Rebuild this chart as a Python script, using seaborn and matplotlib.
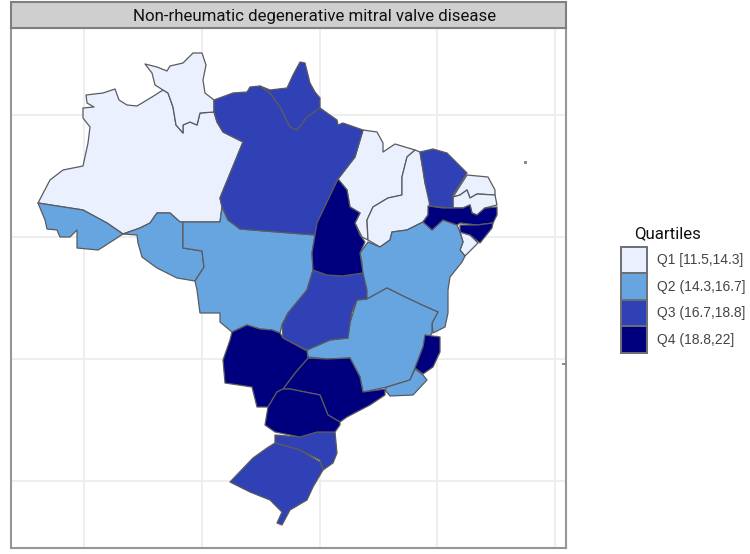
import matplotlib
matplotlib.use("Agg")

import matplotlib.pyplot as plt
import seaborn as sns
from matplotlib.patches import Patch, Rectangle


# ==========================================
# DATA (outlines)
# ==========================================

quartile_labels = [
    "Q1 [11.5,14.3]",
    "Q2 (14.3,16.7]",
    "Q3 (16.7,18.8]",
    "Q4 (18.8,22]"
]

quartile_colors = ["#EAF0FD", "#66A5E0", "#3041B5", "#00007F"]

lon_grid = [-70, -60, -50, -40, -30]
lat_grid = [0, -10, -20, -30]

amazonas = [(86,95),(103,93),(115,89),(119,100),(127,105),(137,106),(152,97),(163,90),(168,93),(173,107),(176,125),(183,133),(183,125),(190,122),(197,125),(200,113),(214,112),(217,122),(223,132),(243,142),(220,198),(222,207),(220,222),(180,222),(170,213),(157,213),(150,223),(140,228),(123,234),(107,223),(83,210),(38,203),(50,180),(63,170),(83,166),(88,143),(90,127),(83,118),(83,108),(94,107),(87,103)]
roraima = [(145,64),(157,67),(167,71),(170,66),(183,63),(193,53),(202,53),(206,65),(203,80),(205,93),(214,100),(214,112),(200,113),(197,125),(190,122),(183,125),(183,133),(176,125),(173,107),(168,93),(163,90),(155,85),(152,73)]
acre = [(38,203),(83,210),(107,223),(123,234),(103,247),(98,250),(77,248),(77,230),(70,237),(60,237),(57,230),(47,229),(45,220)]
rondonia = [(123,234),(140,228),(150,223),(157,213),(170,213),(180,222),(183,222),(183,248),(202,251),(204,267),(195,281),(177,278),(157,268),(142,257),(138,243),(137,235)]
mato_grosso = [(183,222),(220,222),(222,207),(228,220),(240,229),(315,235),(312,253),(313,270),(310,280),(307,290),(288,313),(282,325),(280,333),(272,330),(260,329),(247,325),(232,332),(220,322),(220,313),(200,313),(197,290),(195,281),(204,267),(202,251),(183,248)]
para = [(214,100),(233,93),(247,92),(250,87),(260,86),(270,93),(280,107),(290,127),(297,130),(307,117),(320,108),(337,120),(338,125),(343,123),(363,130),(355,157),(338,179),(317,223),(315,235),(240,229),(228,220),(222,207),(220,198),(243,142),(223,132),(217,122),(214,112)]
amapa = [(260,86),(270,90),(287,88),(293,75),(300,62),(305,63),(310,83),(315,92),(320,98),(320,108),(307,117),(297,130),(290,127),(280,107),(270,93)]
maranhao = [(363,130),(377,132),(383,143),(383,152),(395,144),(415,150),(407,157),(402,177),(402,195),(388,198),(373,207),(367,220),(368,240),(362,237),(355,223),(360,213),(350,207),(347,190),(338,179),(355,157)]
piaui = [(415,150),(420,152),(423,170),(425,183),(430,200),(428,215),(423,222),(407,230),(392,232),(390,240),(380,247),(368,240),(367,220),(373,207),(388,198),(402,195),(402,177),(407,157)]
ceara = [(420,152),(433,149),(447,153),(467,173),(453,195),(453,208),(440,207),(430,206),(425,183),(423,170)]
rio_grande_norte = [(467,175),(488,177),(495,190),(495,195),(477,194),(470,198),(467,190),(460,195),(453,197)]
paraiba = [(453,197),(460,195),(467,190),(470,198),(477,194),(495,195),(497,205),(485,208),(477,215),(472,213),(470,205),(463,208),(453,208)]
pernambuco = [(428,206),(443,208),(453,208),(463,208),(470,205),(472,213),(477,215),(485,208),(497,207),(497,215),(493,223),(477,225),(460,223),(457,225),(443,220),(432,230),(423,222),(428,215)]
alagoas = [(460,225),(477,225),(493,223),(492,228),(480,243),(470,235),(460,232)]
sergipe = [(460,232),(470,235),(478,243),(465,256),(460,250),(463,242)]
bahia = [(423,222),(432,230),(443,220),(457,225),(460,232),(463,242),(460,250),(465,256),(462,262),(450,277),(448,290),(448,313),(445,327),(433,333),(432,323),(438,312),(422,305),(403,296),(387,288),(367,299),(363,283),(362,263),(360,253),(368,242),(380,247),(390,240),(392,232),(407,230)]
tocantins = [(338,179),(347,190),(350,207),(360,213),(355,223),(360,235),(365,242),(360,253),(363,273),(342,276),(327,275),(313,270),(312,253),(317,223)]
goias = [(313,270),(327,275),(342,276),(363,273),(367,290),(367,299),(357,300),(352,312),(350,323),(348,338),(330,340),(307,350),(283,338),(282,325),(288,313),(307,290),(310,280)]
distrito_federal = [(340,304),(350,304),(350,311),(340,311)]
minas_gerais = [(367,299),(387,288),(403,296),(422,305),(438,312),(432,323),(432,333),(423,347),(415,368),(410,380),(387,387),(363,392),(360,377),(350,358),(327,359),(308,357),(307,350),(330,340),(348,338),(350,323),(357,300)]
espirito_santo = [(425,335),(440,337),(440,352),(433,367),(423,374),(415,368),(423,347)]
rio_de_janeiro = [(410,380),(415,369),(423,375),(427,380),(413,395),(390,396),(385,390),(387,387)]
sao_paulo = [(308,358),(327,359),(350,358),(360,377),(363,392),(385,389),(385,395),(370,405),(347,417),(340,422),(328,415),(320,395),(290,389),(283,389),(295,373)]
mato_grosso_sul = [(232,332),(247,325),(260,329),(272,330),(280,333),(283,338),(307,351),(308,358),(295,373),(283,389),(277,392),(268,407),(257,407),(252,387),(225,383),(223,360),(230,340)]
parana = [(277,392),(283,389),(290,389),(320,395),(328,415),(340,422),(340,425),(335,432),(317,432),(300,437),(275,432),(265,425),(268,407)]
santa_catarina = [(275,435),(300,437),(317,432),(335,432),(337,453),(333,463),(323,470),(320,460),(300,450),(275,443)]
rio_grande_sul = [(275,443),(300,450),(320,462),(323,470),(313,487),(307,500),(290,510),(282,525),(277,523),(282,512),(270,500),(250,492),(230,482),(253,458),(267,448)]

islands = [[(524,161),(527,161),(527,164),(524,164)], [(562,363),(566,363),(566,365),(562,365)]]

q1_states = [amazonas, roraima, maranhao, piaui, rio_grande_norte, paraiba, sergipe]
q2_states = [acre, rondonia, mato_grosso, bahia, minas_gerais, rio_de_janeiro, distrito_federal]
q3_states = [para, amapa, ceara, goias, santa_catarina, rio_grande_sul]
q4_states = [tocantins, pernambuco, alagoas, espirito_santo, sao_paulo, mato_grosso_sul, parana]


# ==========================================
# TRACE UNITS TO LON / LAT
# ==========================================

def to_lon(x):
    return -70 + (x - 84) / 11.775


def to_lat(y):
    return -(y - 115) / 12.2


def draw_state(ax, outline, color):
    lons = [to_lon(p[0]) for p in outline]
    lats = [to_lat(p[1]) for p in outline]
    ax.fill(lons, lats, facecolor=color, edgecolor="#5A5A5F", linewidth=0.9, joinstyle="round", zorder=3)


# ==========================================
# FIGURE
# ==========================================

sns.set_theme(style="white")
palette = sns.color_palette(quartile_colors)

fig = plt.figure(figsize=(7.5, 5.54), dpi=100)
ax = fig.add_axes([11 / 750, 1 - 548 / 554, 555 / 750, 520 / 554])

ax.set_xlim(to_lon(11), to_lon(566))
ax.set_ylim(to_lat(548), to_lat(28))

ax.set_xticks(lon_grid)
ax.set_yticks(lat_grid)
ax.set_xticklabels([])
ax.set_yticklabels([])
ax.tick_params(length=0)
ax.grid(True, color="#EDEDED", linewidth=1.3, zorder=0)
ax.set_axisbelow(True)

for spine in ax.spines.values():
    spine.set_color("#969696")
    spine.set_linewidth(1.5)

for group, color in zip([q1_states, q2_states, q3_states, q4_states], palette):
    for outline in group:
        draw_state(ax, outline, color)

for outline in islands:
    ax.fill(
        [to_lon(p[0]) for p in outline],
        [to_lat(p[1]) for p in outline],
        color="#8A8A8A", linewidth=0, zorder=3
    )

# ------------------------------------------
# TITLE STRIP
# ------------------------------------------

strip = Rectangle(
    (11 / 750, 1 - 28 / 554), 555 / 750, 26 / 554,
    transform=fig.transFigure, facecolor="#CFCFCF",
    edgecolor="#7F7F7F", linewidth=1.5
)
fig.add_artist(strip)

narrow = ["Roboto", "DejaVu Sans"]

fig.text(
    314.5 / 750, 1 - 16 / 554,
    "Non-rheumatic degenerative mitral valve disease",
    ha="center", va="center", fontsize=12.2,
    family=narrow, color="#111111"
)

# ------------------------------------------
# LEGEND
# ------------------------------------------

handles = [
    Patch(facecolor=c, edgecolor="#6E6E75", linewidth=1.4)
    for c in palette
]

legend = fig.legend(
    handles=handles, labels=quartile_labels,
    loc="upper left", bbox_to_anchor=(621 / 750, 1 - 247 / 554),
    frameon=False, labelcolor="#444444",
    prop={"family": "Liberation Sans", "size": 10},
    handlelength=1.9, handleheight=2.55,
    labelspacing=0, handletextpad=0.72, borderpad=0,
    borderaxespad=0
)

fig.text(
    634 / 750, 1 - 234 / 554, "Quartiles",
    ha="left", va="center", fontsize=12.2,
    family=narrow, color="#111111"
)

fig.savefig("out.png", dpi=100)
